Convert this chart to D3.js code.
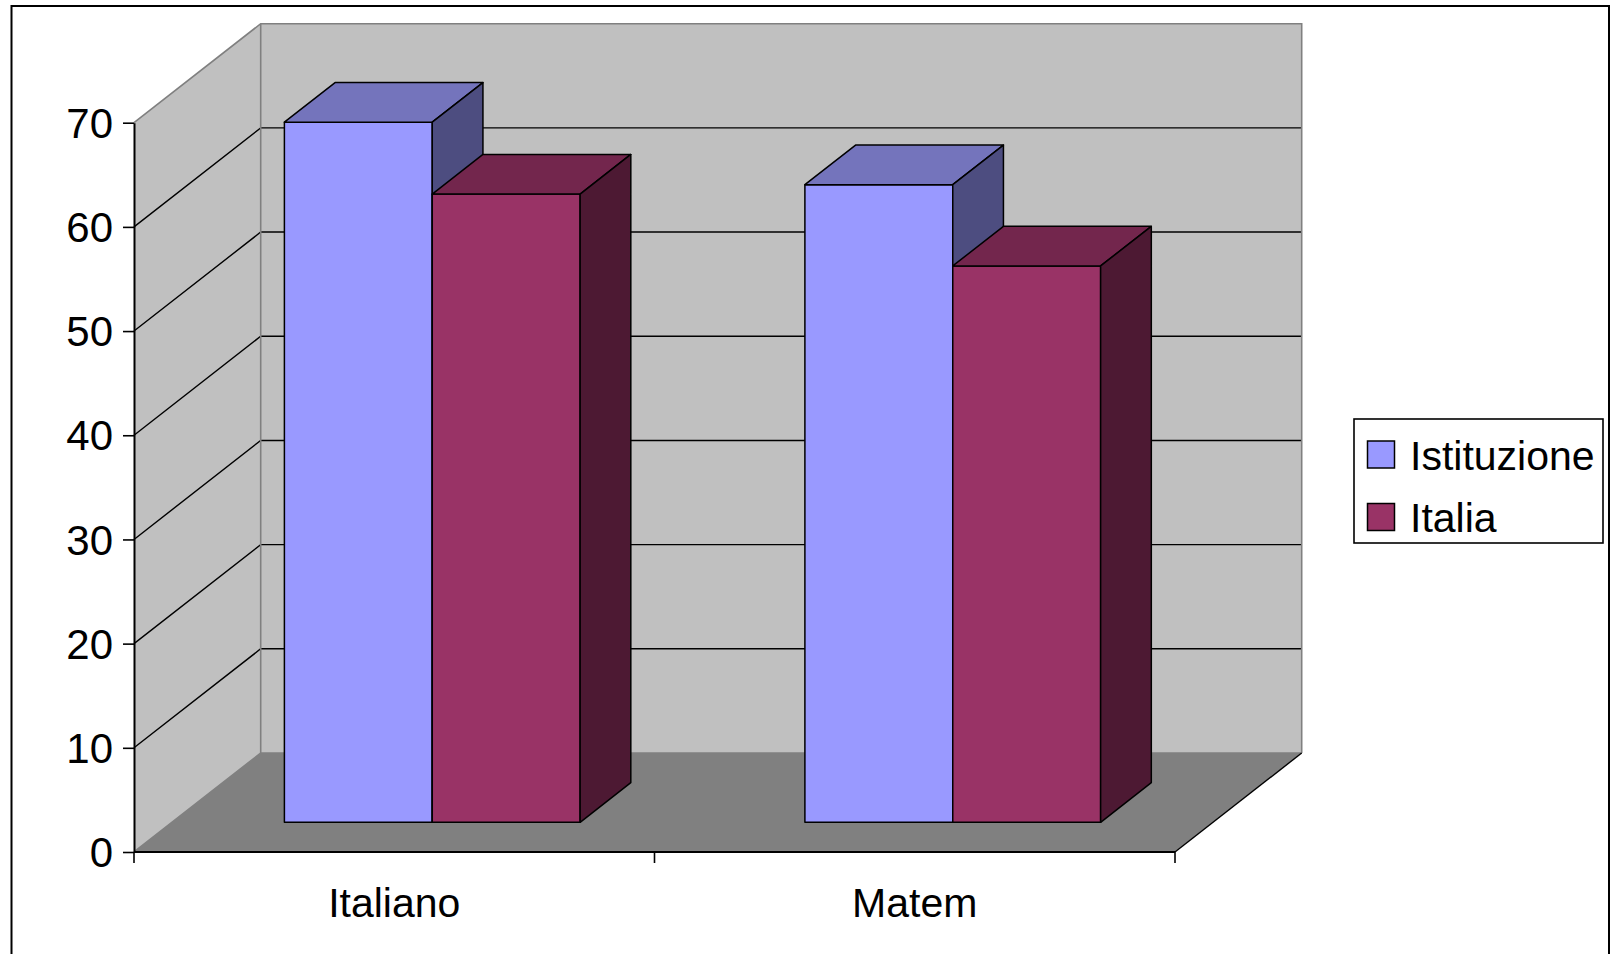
<!DOCTYPE html>
<html>
<head>
<meta charset="utf-8">
<script src="https://cdn.jsdelivr.net/npm/d3@7"></script>
<style>
  html, body { margin: 0; padding: 0; background: #fff; }
  svg { display: block; font-family: "Liberation Sans", Arial, sans-serif; }
</style>
</head>
<body>
<svg id="chart" width="1612" height="954"></svg>
<script>
// ---- data ----
const categories = ["Italiano", "Matem"];
const series = ["Istituzione", "Italia"];
const istituzione = [67.2, 61.2];
const italia = [60.3, 53.4];
const yTicks = [0, 10, 20, 30, 40, 50, 60, 70];

const seriesValues = [istituzione, italia];
const frontColors = ["#9999FF", "#993366"];
const topColors = ["#7474BC", "#73264D"];
const sideColors = ["#4D4D80", "#4D1933"];

const svg = d3.select("#chart");

// geometry of oblique 3D projection
const DX = 126.7, DY = -99;      // full-depth offset
const barD0 = 0.3, barD1 = 0.7;  // bar depth fractions

const y = d3.scaleLinear().domain([0, 70]).range([852, 122.7]);
const x0 = d3.scaleBand().domain(categories).range([134, 1175]).paddingInner(0).paddingOuter(0);
const x1 = d3.scaleBand().domain(series).range([0, x0.bandwidth()]).paddingInner(0).paddingOuter(0.76);

const P = (xf, v, d) => [xf + d * DX, y(v) + d * DY];
const poly = pts => "M" + pts.map(p => p.join(",")).join("L") + "Z";

// outer border
svg.append("rect").attr("x", 11.5).attr("y", 6).attr("width", 1597.5).attr("height", 960)
  .attr("fill", "none").attr("stroke", "#000").attr("stroke-width", 2);

const xL = x0.range()[0], xR = x0.range()[1];
const vMax = 70;

// side wall
svg.append("path").attr("d", poly([P(xL, 0, 0), P(xL, vMax, 0), P(xL, vMax, 1), P(xL, 0, 1)]))
  .attr("fill", "#C0C0C0");
// back wall
svg.append("path").attr("d", poly([P(xL, 0, 1), P(xL, vMax, 1), P(xR, vMax, 1), P(xR, 0, 1)]))
  .attr("fill", "#C0C0C0");
// floor
svg.append("path").attr("d", poly([P(xL, 0, 0), P(xR, 0, 0), P(xR, 0, 1), P(xL, 0, 1)]))
  .attr("fill", "#808080");

// gridlines
const grid = svg.append("g");
yTicks.filter(v => v > 0 && v < vMax).forEach(v => {
  const a = P(xL, v, 0), b = P(xL, v, 1), c = P(xR, v, 1);
  grid.append("path").attr("d", `M${a}L${b}L${c}`).attr("fill", "none")
    .attr("stroke", "#000").attr("stroke-width", 1.4);
});
// wall edges (gray)
const edges = svg.append("g").attr("fill", "none").attr("stroke", "#808080").attr("stroke-width", 1.6);
edges.append("path").attr("d", `M${P(xL, vMax, 0)}L${P(xL, vMax, 1)}L${P(xR, vMax, 1)}L${P(xR, 0, 1)}`);
edges.append("path").attr("d", `M${P(xL, 0, 0)}L${P(xL, 0, 1)}L${P(xR, 0, 1)}`);
edges.append("path").attr("d", `M${P(xL, 0, 1)}L${P(xL, vMax, 1)}`);
// floor right edge (black)
svg.append("path").attr("d", `M${P(xR, 0, 0)}L${P(xR, 0, 1)}`)
  .attr("stroke", "#000").attr("stroke-width", 1.4).attr("fill", "none");

// bars
const bars = svg.append("g").attr("stroke", "#000").attr("stroke-width", 1.5).attr("stroke-linejoin", "round");
categories.forEach((cat, ci) => {
  series.forEach((s, si) => {
    const v = seriesValues[si][ci];
    const xa = x0(cat) + x1(s), xb = xa + x1.bandwidth();
    const g = bars.append("g");
    // front
    g.append("path").attr("d", poly([P(xa, 0, barD0), P(xb, 0, barD0), P(xb, v, barD0), P(xa, v, barD0)]))
      .attr("fill", frontColors[si]);
    // top
    g.append("path").attr("d", poly([P(xa, v, barD0), P(xb, v, barD0), P(xb, v, barD1), P(xa, v, barD1)]))
      .attr("fill", topColors[si]);
    // side
    g.append("path").attr("d", poly([P(xb, 0, barD0), P(xb, v, barD0), P(xb, v, barD1), P(xb, 0, barD1)]))
      .attr("fill", sideColors[si]);
  });
});

// y axis
const yAxis = svg.append("g").attr("transform", `translate(${xL},0)`)
  .call(d3.axisLeft(y).tickValues(yTicks).tickSize(11).tickPadding(10).tickSizeOuter(0));
yAxis.select(".domain").attr("stroke", "#000").attr("stroke-width", 2);
yAxis.selectAll(".tick line").attr("stroke", "#000").attr("stroke-width", 1.6);
yAxis.selectAll("text").attr("font-size", 42).attr("fill", "#000").attr("dy", "0.35em")
  .attr("font-family", "'Liberation Sans', Arial, sans-serif");

// x axis
const xAxisG = svg.append("g").attr("transform", `translate(0,${y(0)})`);
xAxisG.append("line").attr("x1", xL).attr("x2", xR).attr("stroke", "#000").attr("stroke-width", 2);
const bounds = categories.map(c => x0(c)).concat([xR]);
xAxisG.selectAll("line.tk").data(bounds).join("line").attr("class", "tk")
  .attr("x1", d => d).attr("x2", d => d).attr("y1", 0).attr("y2", 11)
  .attr("stroke", "#000").attr("stroke-width", 1.6);
xAxisG.selectAll("text").data(categories).join("text")
  .attr("x", d => x0(d) + x0.bandwidth() / 2).attr("y", 65)
  .attr("text-anchor", "middle").attr("font-size", 41).attr("fill", "#000")
  .text(d => d);

// legend
const leg = svg.append("g");
leg.append("rect").attr("x", 1354).attr("y", 419).attr("width", 249).attr("height", 124)
  .attr("fill", "#fff").attr("stroke", "#000").attr("stroke-width", 1.6);
series.forEach((s, i) => {
  const yy = 441 + i * 62.5;
  leg.append("rect").attr("x", 1367.5).attr("y", yy).attr("width", 27).attr("height", 27)
    .attr("fill", frontColors[i]).attr("stroke", "#000").attr("stroke-width", 1.5);
  leg.append("text").attr("x", 1410).attr("y", yy + 28.5).attr("font-size", 41).attr("fill", "#000").text(s);
});
</script>
</body>
</html>
